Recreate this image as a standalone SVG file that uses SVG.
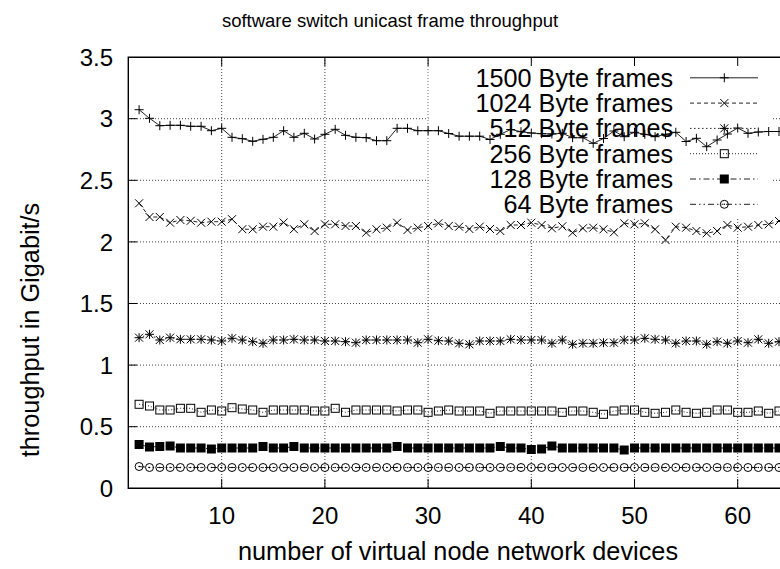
<svg xmlns="http://www.w3.org/2000/svg" width="780" height="569" viewBox="0 0 780 569">
<style>
text{font-family:"Liberation Sans",Arial,Helvetica,sans-serif;fill:#000}
.lab{font-size:25.3px}
.title{font-size:18.5px;text-anchor:middle}
.yt{font-size:24px;text-anchor:end}
.xt{font-size:24px;text-anchor:middle}
.key{font-size:25.2px;text-anchor:end}
.grid{stroke:#444;stroke-width:1;stroke-dasharray:1 2;fill:none}
.ax{stroke:#000;stroke-width:1.4;fill:none}
.tick{stroke:#000;stroke-width:1;fill:none}
.ln{fill:none;stroke:#222;stroke-width:1}
.d1024{stroke-dasharray:4 3}
.d512{stroke-dasharray:1.5 2.5}
.d256{stroke-dasharray:1 2}
.d128{stroke-dasharray:6 3 1.5 3}
.d64{stroke-dasharray:6 3 1.5 3 1.5 3}
.m1500{marker-start:url(#mPlus);marker-mid:url(#mPlus);marker-end:url(#mPlus)}
.m1024{marker-start:url(#mCross);marker-mid:url(#mCross);marker-end:url(#mCross)}
.m512{marker-start:url(#mStar);marker-mid:url(#mStar);marker-end:url(#mStar)}
.m256{marker-start:url(#mBox);marker-mid:url(#mBox);marker-end:url(#mBox)}
.m128{marker-start:url(#mFBox);marker-mid:url(#mFBox);marker-end:url(#mFBox)}
.m64{marker-start:url(#mCirc);marker-mid:url(#mCirc);marker-end:url(#mCirc)}
.k1500{marker-mid:url(#mPlus)}
.k1024{marker-mid:url(#mCross)}
.k512{marker-mid:url(#mStar)}
.k256{marker-mid:url(#mBox)}
.k128{marker-mid:url(#mFBox)}
.k64{marker-mid:url(#mCirc)}
</style>
<defs>
<marker id="mPlus" markerUnits="userSpaceOnUse" viewBox="-6 -6 12 12" refX="0" refY="0" markerWidth="12" markerHeight="12" overflow="visible"><path d="M-4.5,0H4.5M0,-4.5V4.5" stroke="#000" stroke-width="1" fill="none"/></marker>
<marker id="mCross" markerUnits="userSpaceOnUse" viewBox="-6 -6 12 12" refX="0" refY="0" markerWidth="12" markerHeight="12" overflow="visible"><path d="M-4,-4L4,4M-4,4L4,-4" stroke="#000" stroke-width="1" fill="none"/></marker>
<marker id="mStar" markerUnits="userSpaceOnUse" viewBox="-6 -6 12 12" refX="0" refY="0" markerWidth="12" markerHeight="12" overflow="visible"><path d="M-4,-4L4,4M-4,4L4,-4M-4.5,0H4.5M0,-4.5V4.5" stroke="#000" stroke-width="1" fill="none"/></marker>
<marker id="mBox" markerUnits="userSpaceOnUse" viewBox="-6 -6 12 12" refX="0" refY="0" markerWidth="12" markerHeight="12" overflow="visible"><rect x="-4" y="-4" width="8" height="8" stroke="#000" stroke-width="1" fill="none"/></marker>
<marker id="mFBox" markerUnits="userSpaceOnUse" viewBox="-6 -6 12 12" refX="0" refY="0" markerWidth="12" markerHeight="12" overflow="visible"><rect x="-4.5" y="-4.5" width="9" height="9" fill="#000"/></marker>
<marker id="mCirc" markerUnits="userSpaceOnUse" viewBox="-6 -6 12 12" refX="0" refY="0" markerWidth="12" markerHeight="12" overflow="visible"><circle r="4" stroke="#000" stroke-width="1" fill="none"/><circle r="0.8" fill="#000"/></marker>
</defs>

<g id="grid" class="grid">
<path d="M128,426.7H780M128,365.1H780M128,303.5H780M128,241.9H780M128,180.3H780M128,118.7H780"/>
<path d="M221.7,57V488M324.9,57V488M428.1,57V488M531.3,57V488M634.5,57V488M737.7,57V488"/>
</g>
<rect id="key-bg" x="428.6" y="58" width="344.5" height="159" fill="#fff"/>

<g id="axes">
<path class="ax" d="M780,57.3H128.3V488.3H780"/>
<path class="tick" d="M128,426.7h9M128,365.1h9M128,303.5h9M128,241.9h9M128,180.3h9M128,118.7h9"/>
<path class="tick" d="M221.7,488v-9M324.9,488v-9M428.1,488v-9M531.3,488v-9M634.5,488v-9M737.7,488v-9"/>
<path class="tick" d="M221.7,57v9M324.9,57v9M428.1,57v9M531.3,57v9M634.5,57v9M737.7,57v9"/>
</g>

<g id="ytick-labels" class="yt">
<text x="113" y="496.9">0</text>
<text x="113" y="435.3">0.5</text>
<text x="113" y="373.7">1</text>
<text x="113" y="312.1">1.5</text>
<text x="113" y="250.5">2</text>
<text x="113" y="188.9">2.5</text>
<text x="113" y="127.3">3</text>
<text x="113" y="65.7">3.5</text>
</g>
<g id="xtick-labels" class="xt">
<text x="221.7" y="523.5">10</text>
<text x="324.9" y="523.5">20</text>
<text x="428.1" y="523.5">30</text>
<text x="531.3" y="523.5">40</text>
<text x="634.5" y="523.5">50</text>
<text x="737.7" y="523.5">60</text>
</g>

<text id="title" class="title" x="390" y="27">software switch unicast frame throughput</text>
<text id="xlabel" class="lab" x="458" y="560" text-anchor="middle">number of virtual node network devices</text>
<text id="ylabel" class="lab" transform="translate(39,330) rotate(-90)" text-anchor="middle">throughput in Gigabit/s</text>

<g id="series">
<polyline id="s1500" class="ln m1500" points="139.1,109.7 149.5,118.3 159.8,125.7 170.1,125.3 180.4,125.3 190.7,126.3 201.1,126.3 211.4,130.7 221.7,128.3 232,137.3 242.3,138.7 252.7,141.3 263,139.3 273.3,137.3 283.6,130.7 293.9,137.3 304.3,133.3 314.6,139 324.9,134.3 335.2,129.3 345.5,135.3 355.9,137.3 366.2,137.7 376.5,140.7 386.8,140.7 397.1,128.3 407.5,128.3 417.8,130.7 428.1,130.7 438.4,130.7 448.7,133.5 459.1,136.2 469.4,136.2 479.7,136.2 490,139.5 500.3,134.3 510.7,129.5 521,131.7 531.3,133 541.6,133.7 551.9,134 562.3,133.3 572.6,137.7 582.9,137.7 593.2,143.3 603.5,138.5 613.9,131 624.2,136.7 634.5,132.3 644.8,134.3 655.1,136.7 665.5,134.3 675.8,132.3 686.1,141.5 696.4,138.3 706.7,146.7 717.1,140 727.4,134 737.7,128 748,133.3 758.3,132 768.7,131.5 779,131.5"/>
<polyline id="s1024" class="ln d1024 m1024" points="139.1,203.3 149.5,217 159.8,217 170.1,222.7 180.4,220 190.7,220.8 201.1,222.7 211.4,221.7 221.7,221.7 232,219.2 242.3,229.2 252.7,229.3 263,226.7 273.3,226.7 283.6,222.5 293.9,229.2 304.3,224.3 314.6,231 324.9,224.3 335.2,224.3 345.5,226 355.9,226 366.2,232.7 376.5,229.3 386.8,227.7 397.1,222.7 407.5,230 417.8,227.7 428.1,226 438.4,223.3 448.7,226 459.1,226.7 469.4,229 479.7,226.7 490,229 500.3,231 510.7,225 521,225 531.3,222.7 541.6,225 551.9,228.3 562.3,226.3 572.6,232.7 582.9,228.3 593.2,227.7 603.5,229.3 613.9,232.3 624.2,223.3 634.5,224.3 644.8,223.3 655.1,229.3 665.5,240 675.8,226.7 686.1,227.7 696.4,231 706.7,233.3 717.1,231 727.4,225 737.7,227.7 748,226.7 758.3,225 768.7,224.3 779,221"/>
<polyline id="s512" class="ln d512 m512" points="139.1,337.7 149.5,334.3 159.8,340 170.1,337.7 180.4,339.3 190.7,339.3 201.1,339.3 211.4,340 221.7,341 232,338.3 242.3,340 252.7,341.7 263,343.3 273.3,340 283.6,340 293.9,339.3 304.3,340 314.6,340 324.9,341 335.2,341 345.5,341.7 355.9,342.7 366.2,340 376.5,340 386.8,340 397.1,340 407.5,340 417.8,342.7 428.1,339.3 438.4,340.7 448.7,341 459.1,343.3 469.4,344.3 479.7,341 490,341 500.3,341 510.7,339.3 521,340 531.3,340 541.6,340 551.9,343.3 562.3,340 572.6,344.3 582.9,343.3 593.2,343.3 603.5,342.7 613.9,342.7 624.2,340 634.5,340 644.8,338.3 655.1,339.3 665.5,340 675.8,343.3 686.1,341 696.4,341 706.7,344.3 717.1,341.7 727.4,343.3 737.7,341 748,342.7 758.3,339.3 768.7,343.3 779,341.7"/>
<polyline id="s256" class="ln d256 m256" points="139.1,404.3 149.5,406 159.8,410 170.1,410 180.4,408.3 190.7,408.3 201.1,412.3 211.4,410 221.7,411 232,407.7 242.3,409 252.7,410 263,412.3 273.3,410 283.6,410 293.9,410 304.3,410 314.6,411 324.9,411 335.2,408.3 345.5,412.3 355.9,410 366.2,410 376.5,410 386.8,410 397.1,411 407.5,410 417.8,410 428.1,412.3 438.4,411 448.7,410 459.1,411 469.4,411 479.7,411 490,413.3 500.3,411 510.7,411 521,411 531.3,411 541.6,411 551.9,411 562.3,412.3 572.6,411 582.9,411 593.2,412.3 603.5,414.3 613.9,411 624.2,410 634.5,410 644.8,412.3 655.1,413.3 665.5,412.3 675.8,410 686.1,412.3 696.4,413.3 706.7,412.3 717.1,410 727.4,410 737.7,412.3 748,412.3 758.3,411 768.7,413.3 779,411"/>
<polyline id="s128" class="ln d128 m128" points="139.1,444.5 149.5,447 159.8,446.5 170.1,446 180.4,448 190.7,448 201.1,448 211.4,449 221.7,448 232,448 242.3,448 252.7,448 263,446.5 273.3,448 283.6,448 293.9,446.5 304.3,448 314.6,448 324.9,448 335.2,448 345.5,448 355.9,448 366.2,448 376.5,448 386.8,448 397.1,446.5 407.5,448 417.8,448 428.1,448 438.4,448 448.7,448 459.1,448 469.4,448 479.7,448 490,448 500.3,446.5 510.7,448 521,448 531.3,449.5 541.6,449 551.9,446 562.3,448 572.6,448 582.9,448 593.2,448 603.5,448 613.9,448 624.2,450 634.5,448 644.8,448 655.1,448 665.5,448 675.8,448 686.1,448 696.4,448 706.7,448 717.1,448 727.4,448 737.7,448 748,448 758.3,448 768.7,448 779,448"/>
<polyline id="s64" class="ln d64 m64" points="139.1,466.5 149.5,467.5 159.8,467.5 170.1,467.5 180.4,467.5 190.7,467.5 201.1,467.5 211.4,467.5 221.7,467.5 232,467.5 242.3,467.5 252.7,467.5 263,467.5 273.3,467.5 283.6,467.5 293.9,467.5 304.3,467.5 314.6,467.5 324.9,467.5 335.2,467.5 345.5,467.5 355.9,467.5 366.2,467.5 376.5,467.5 386.8,467.5 397.1,467.5 407.5,467.5 417.8,467.5 428.1,467.5 438.4,467.5 448.7,467.5 459.1,467.5 469.4,467.5 479.7,467.5 490,467.5 500.3,467.5 510.7,467.5 521,467.5 531.3,467.5 541.6,467.5 551.9,467.5 562.3,467.5 572.6,467.5 582.9,467.5 593.2,467.5 603.5,467.5 613.9,467.5 624.2,467.5 634.5,467.5 644.8,467.5 655.1,467.5 665.5,467.5 675.8,467.5 686.1,467.5 696.4,467.5 706.7,467.5 717.1,467.5 727.4,467.5 737.7,467.5 748,467.5 758.3,467.5 768.7,467.5 779,467.5"/>
</g>

<g id="legend">
<g id="key-1500"><text class="key" x="673" y="86.8">1500 Byte frames</text><polyline class="ln k1500" points="690,77.8 724.3,77.8 758,77.8"/></g>
<g id="key-1024"><text class="key" x="673" y="112.1">1024 Byte frames</text><polyline class="ln d1024 k1024" points="690,103.1 724.3,103.1 758,103.1"/></g>
<g id="key-512"><text class="key" x="673" y="137.4">512 Byte frames</text><polyline class="ln d512 k512" points="690,128.4 724.3,128.4 758,128.4"/></g>
<g id="key-256"><text class="key" x="673" y="162.7">256 Byte frames</text><polyline class="ln d256 k256" points="690,153.7 724.3,153.7 758,153.7"/></g>
<g id="key-128"><text class="key" x="673" y="188">128 Byte frames</text><polyline class="ln d128 k128" points="690,179 724.3,179 758,179"/></g>
<g id="key-64"><text class="key" x="673" y="213.3">64 Byte frames</text><polyline class="ln d64 k64" points="690,204.3 724.3,204.3 758,204.3"/></g>
</g>
</svg>
